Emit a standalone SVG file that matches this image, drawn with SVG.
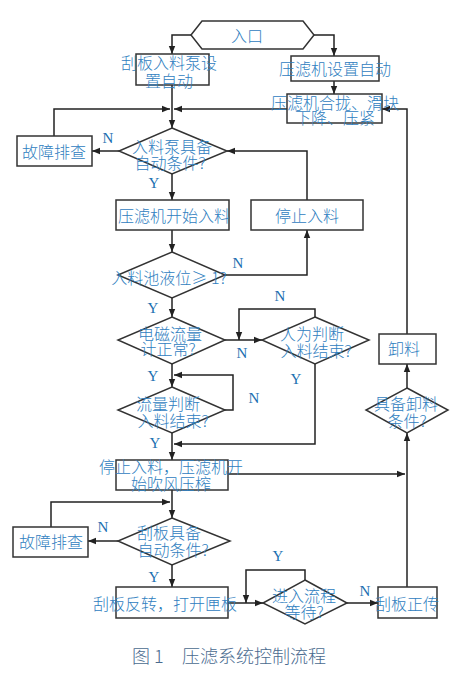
<svg xmlns="http://www.w3.org/2000/svg" width="462" height="679" viewBox="0 0 462 679">
<defs>
<marker id="ah" viewBox="0 0 10 10" refX="10" refY="5" markerWidth="8" markerHeight="8" markerUnits="userSpaceOnUse" orient="auto">
<path d="M0,1 L10,5 L0,9 z" fill="#222"/>
</marker>
</defs>
<style>
.shape{fill:#fff;stroke:#333;stroke-width:1.5}
.t{font-family:"Noto Sans CJK SC","Noto Sans",sans-serif;font-size:16px;font-weight:300;fill:#2f80c0;text-anchor:middle;dominant-baseline:central}
.yn{font-family:"Liberation Serif",serif;font-size:15px;fill:#1a6fb0;text-anchor:middle;dominant-baseline:central}
.cap{font-family:"Noto Sans CJK SC","Noto Sans",sans-serif;font-size:18px;font-weight:300;fill:#4a6b8f;dominant-baseline:central}
.c{fill:none;stroke:#222;stroke-width:1.5;marker-end:url(#ah)}
</style>
<rect width="462" height="679" fill="#fff"/>
<g id="connectors">
<polyline class="c" points="191,35 172,35 172,54"/>
<polyline class="c" points="314,35 334,35 334,56"/>
<polyline class="c" points="334,81 334,94"/>
<polyline class="c" points="172,85 172,128"/>
<polyline class="c" points="54,136 54,109 170,109"/>
<polyline class="c" points="287,109 174,109"/>
<polyline class="c" points="407,334 407,109 382,109"/>
<polyline class="c" points="119,151 92,151"/>
<polyline class="c" points="172,174 172,200"/>
<polyline class="c" points="307,200 307,151 227,151"/>
<polyline class="c" points="172,230 172,252"/>
<polyline class="c" points="225,275 307,275 307,230"/>
<polyline class="c" points="172,298 172,317"/>
<polyline class="c" points="225,340 262,340"/>
<polyline class="c" points="315,317 315,309 239,309 239,340"/>
<polyline class="c" points="172,364 172,387"/>
<polyline class="c" points="225,410 233,410 233,375 174,375"/>
<polyline class="c" points="315,364 315,444 174,444"/>
<polyline class="c" points="172,433 172,460"/>
<polyline class="c" points="228,474 405,474"/>
<polyline class="c" points="407,587 407,433"/>
<polyline class="c" points="407,388 407,364"/>
<polyline class="c" points="172,490 172,518"/>
<polyline class="c" points="51,527 51,502 170,502"/>
<polyline class="c" points="118,541 88,541"/>
<polyline class="c" points="172,565 172,587"/>
<polyline class="c" points="228,603 263,603"/>
<polyline class="c" points="305,580 305,570 246,570 246,603"/>
<polyline class="c" points="347,603 378,603"/>
</g>
<g id="entry">
<polygon class="shape" points="191,35 202,21 303,21 314,35 303,49 202,49"/>
<text class="t" x="247" y="35">入口</text>
</g>
<g id="scraper-auto">
<rect class="shape" x="136" y="54" width="73" height="31"/>
<text class="t"><tspan x="169" y="62">刮板入料泵设</tspan><tspan x="169" y="80">置自动</tspan></text>
</g>
<g id="press-auto">
<rect class="shape" x="291" y="56" width="88" height="25"/>
<text class="t" x="335" y="68">压滤机设置自动</text>
</g>
<g id="press-close">
<rect class="shape" x="287" y="94" width="95" height="29"/>
<text class="t"><tspan x="335" y="102">压滤机合拢、滑块</tspan><tspan x="335" y="117">下降、压紧</tspan></text>
</g>
<g id="fault1">
<rect class="shape" x="17" y="136" width="75" height="30"/>
<text class="t" x="54" y="151">故障排查</text>
</g>
<g id="d-pump">
<polygon class="shape" points="172,128 227,151 172,174 119,151"/>
<text class="t"><tspan x="172" y="146">入料泵具备</tspan><tspan x="170" y="162">自动条件?</tspan></text>
</g>
<g id="start-feed">
<rect class="shape" x="116" y="200" width="113" height="30"/>
<text class="t" x="174" y="215">压滤机开始入料</text>
</g>
<g id="stop-feed">
<rect class="shape" x="251" y="200" width="112" height="30"/>
<text class="t" x="307" y="215">停止入料</text>
</g>
<g id="d-level">
<polygon class="shape" points="172,252 225,275 172,298 118,275"/>
<text class="t" x="169" y="277">入料池液位≥ 1?</text>
</g>
<g id="d-meter">
<polygon class="shape" points="172,317 225,340 172,364 118,340"/>
<text class="t"><tspan x="170" y="333">电磁流量</tspan><tspan x="168" y="348">计正常?</tspan></text>
</g>
<g id="d-manual">
<polygon class="shape" points="315,317 369,340 315,364 262,340"/>
<text class="t"><tspan x="312" y="333">人为判断</tspan><tspan x="316" y="350">入料结束?</tspan></text>
</g>
<g id="d-flow">
<polygon class="shape" points="172,387 225,410 172,433 118,410"/>
<text class="t"><tspan x="168" y="403">流量判断</tspan><tspan x="173" y="420">入料结束?</tspan></text>
</g>
<g id="discharge">
<rect class="shape" x="379" y="334" width="57" height="30"/>
<text class="t" x="404" y="348">卸料</text>
</g>
<g id="d-discharge">
<polygon class="shape" points="407,388 448,410 407,433 366,410"/>
<text class="t"><tspan x="406" y="403">具备卸料</tspan><tspan x="407" y="420">条件?</tspan></text>
</g>
<g id="stop-blow">
<rect class="shape" x="116" y="460" width="112" height="30"/>
<text class="t"><tspan x="171" y="466">停止入料，压滤机开</tspan><tspan x="171" y="483">始吹风压榨</tspan></text>
</g>
<g id="fault2">
<rect class="shape" x="13" y="527" width="75" height="30"/>
<text class="t" x="51" y="541">故障排查</text>
</g>
<g id="d-scraper">
<polygon class="shape" points="172,518 230,541 172,565 118,541"/>
<text class="t"><tspan x="169" y="532">刮板具备</tspan><tspan x="173" y="549">自动条件?</tspan></text>
</g>
<g id="reverse">
<rect class="shape" x="116" y="587" width="112" height="31"/>
<text class="t" x="165" y="603">刮板反转，打开匣板</text>
</g>
<g id="d-wait">
<polygon class="shape" points="305,580 347,603 305,624 263,603"/>
<text class="t"><tspan x="304" y="595">进入流程</tspan><tspan x="304" y="611">等待?</tspan></text>
</g>
<g id="forward">
<rect class="shape" x="378" y="587" width="59" height="31"/>
<text class="t" x="407" y="603">刮板正传</text>
</g>
<g id="labels">
<text class="yn" x="108" y="138">N</text>
<text class="yn" x="154" y="183">Y</text>
<text class="yn" x="238" y="263">N</text>
<text class="yn" x="153" y="308">Y</text>
<text class="yn" x="280" y="296">N</text>
<text class="yn" x="242" y="353">N</text>
<text class="yn" x="153" y="376">Y</text>
<text class="yn" x="296" y="379">Y</text>
<text class="yn" x="254" y="398">N</text>
<text class="yn" x="155" y="443">Y</text>
<text class="yn" x="103" y="527">N</text>
<text class="yn" x="154" y="577">Y</text>
<text class="yn" x="278" y="556">Y</text>
<text class="yn" x="365" y="591">N</text>
</g>
<text class="cap" x="132" y="655">图 1</text>
<text class="cap" x="182" y="655">压滤系统控制流程</text>
</svg>
